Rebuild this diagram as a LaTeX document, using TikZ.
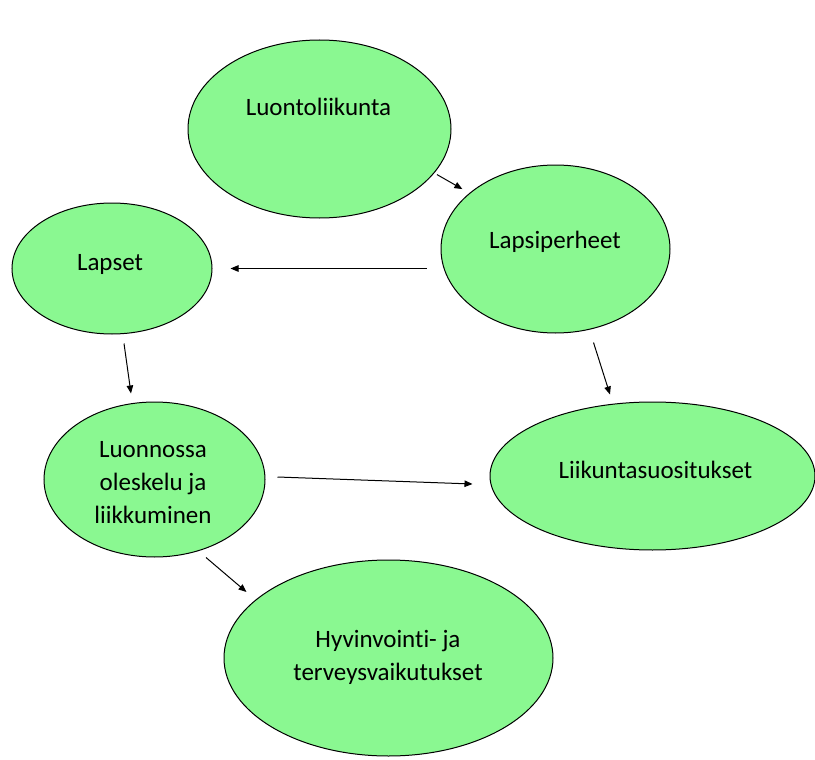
\documentclass[tikz,border=0pt]{standalone}
\usepackage{fontspec}
\setmainfont{Carlito}[RawFeature={-liga;-clig}]
\usetikzlibrary{shapes.geometric,arrows.meta}
\definecolor{bubblegreen}{RGB}{138,248,145}
\tikzset{
  bubble/.style={ellipse, draw=black, line width=1pt, fill=bubblegreen, inner sep=0pt},
  lbl/.style={font=\fontsize{25}{33}\selectfont, inner sep=0pt, align=center},
  arr/.style={line width=1pt, -{Triangle[length=8pt,width=6.5pt]}}
}
\begin{document}
\begin{tikzpicture}[x=1pt,y=-1pt]
\useasboundingbox (0,0) rectangle (815,760);
% ellipses
\node[bubble, minimum width=263pt, minimum height=178pt] (lu) at (319.5,129) {};
\node[bubble, minimum width=229pt, minimum height=168pt] (lp) at (555.5,249) {};
\node[bubble, minimum width=200pt, minimum height=131pt] (la) at (112,268.5) {};
\node[bubble, minimum width=221pt, minimum height=155pt] (lo) at (154.5,479.5) {};
\node[bubble, minimum width=325pt, minimum height=148pt] (li) at (652.5,476) {};
\node[bubble, minimum width=329pt, minimum height=196pt] (hv) at (388.5,658) {};
% labels
\node[lbl, anchor=base] (tlu) at (318.5,116) {Luontoliikunta};
\node[lbl, anchor=base] (tlp) at (555,248) {Lapsiperheet};
\node[lbl, anchor=base] (tla) at (110,270) {Lapset};
\node[lbl] (tlo) at (153,483) {Luonnossa\\oleskelu ja\\liikkuminen};
\node[lbl, anchor=base] (tli) at (655.5,478) {Liikuntasuositukset};
\node[lbl] (thv) at (388,657) {Hyvinvointi- ja\\terveysvaikutukset};
% arrows
\draw[arr, shorten <=3pt, shorten >=8pt] (lu.-21) -- (lp.147);
\draw[arr] ([xshift=-14pt]lp.west |- la.east) -- ([xshift=18pt]la.east);
\draw[arr] ([xshift=38pt,yshift=-9pt]lp.south) -- ([xshift=-42.5pt,yshift=7pt]li.north);
\draw[arr] ([xshift=12pt,yshift=-9pt]la.south) -- ([xshift=-23.5pt,yshift=8pt]lo.north);
\draw[arr] ([xshift=12pt,yshift=2.5pt]lo.east) -- ([xshift=-17pt,yshift=-8pt]li.west);
\draw[arr] ([xshift=51.5pt]lo.south) -- ([xshift=23pt,yshift=66pt]hv.west);
\end{tikzpicture}
\end{document}
